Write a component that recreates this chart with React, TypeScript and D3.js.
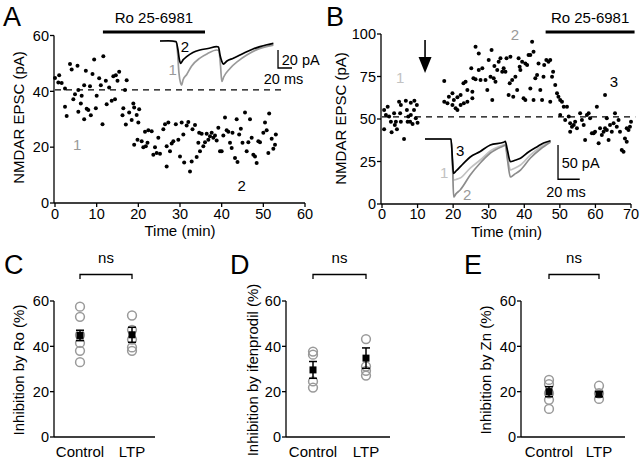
import React from 'react';
import * as d3 from 'd3';

const FONT = '"Liberation Sans", Arial, Helvetica, sans-serif';

// ---------- Panel A: NMDAR EPSC vs time ----------
const timeA = [0.0, 0.8, 1.0, 1.6, 2.4, 2.4, 2.8, 3.6, 4.0, 4.4, 4.8, 5.4, 5.6, 5.6, 6.2, 6.4, 7.0, 7.0, 7.4, 7.6, 8.0, 8.4, 8.6, 9.0, 9.4, 9.8, 10.0, 10.6, 11.0, 11.4, 11.6, 12.2, 12.4, 13.0, 13.6, 14.0, 14.4, 14.6, 15.0, 15.4, 16.2, 16.4, 16.8, 17.0, 17.2, 17.8, 18.4, 18.8, 19.0, 19.0, 19.6, 19.8, 20.0, 20.2, 20.8, 21.2, 21.6, 21.8, 22.2, 22.4, 23.2, 23.6, 24.0, 24.4, 24.8, 25.2, 26.0, 26.4, 26.8, 26.8, 27.2, 27.6, 28.0, 28.4, 29.0, 29.6, 30.0, 30.4, 30.8, 31.0, 31.6, 32.0, 32.4, 32.8, 33.0, 33.6, 34.0, 34.4, 34.6, 34.8, 35.2, 35.6, 36.0, 36.4, 36.8, 37.2, 37.6, 38.0, 38.4, 38.8, 39.2, 39.6, 40.0, 40.4, 40.8, 41.2, 41.6, 42.0, 42.4, 42.6, 43.2, 43.6, 43.8, 44.2, 44.6, 45.0, 45.6, 46.0, 46.4, 46.8, 47.2, 47.6, 48.0, 48.4, 48.8, 49.2, 50.0, 50.4, 50.8, 51.2, 51.4, 52.0, 52.4, 52.8, 53.0];
const epscA = [44.8, 43.2, 45.8, 43.0, 41.0, 34.5, 31.2, 49.8, 47.8, 37.2, 39.0, 49.2, 40.5, 32.7, 35.6, 38.4, 42.2, 30.0, 47.4, 33.8, 33.3, 41.8, 31.4, 46.2, 51.4, 33.9, 38.4, 44.7, 42.2, 28.2, 52.6, 43.8, 35.4, 41.4, 36.6, 45.4, 37.2, 45.8, 43.8, 47.0, 31.4, 33.9, 40.5, 28.1, 44.0, 32.4, 29.7, 35.6, 34.2, 20.9, 31.5, 22.7, 28.8, 33.6, 22.1, 20.0, 25.5, 20.3, 21.6, 26.1, 25.7, 17.3, 20.0, 17.9, 23.4, 17.6, 26.4, 28.2, 20.3, 13.1, 28.8, 18.5, 21.3, 22.1, 28.2, 22.7, 16.7, 28.8, 24.5, 14.5, 27.8, 29.0, 11.3, 14.9, 26.4, 27.9, 16.5, 21.6, 25.2, 18.5, 24.8, 20.3, 21.8, 24.8, 22.7, 23.9, 25.2, 23.4, 24.2, 22.4, 27.0, 18.5, 18.5, 24.2, 30.6, 26.1, 25.5, 21.6, 19.7, 25.2, 16.1, 30.0, 14.7, 24.5, 26.6, 21.6, 32.4, 18.5, 21.8, 30.0, 23.4, 17.3, 16.7, 14.3, 22.1, 21.8, 25.2, 28.8, 26.1, 17.9, 32.1, 23.0, 19.4, 20.9, 24.5];
const baselineA = 40.5;
const roA = [11.5, 36];
const xTicksA = [0, 10, 20, 30, 40, 50, 60];
const yTicksA = [0, 20, 40, 60];

// inset traces A (ms, pA)
const traceA1Ms = [0, 23, 25, 27, 29.5, 31, 33, 38, 45, 57, 68, 81, 84, 86.5, 88.3, 91, 100, 112, 124, 140, 162];
const traceA1pA = [0, -0.5, -12, -35, -47, -49, -43, -37.5, -28, -19, -14, -10, -10.5, -28, -45, -40, -30.5, -22, -15.5, -9, -4.5];
const traceA2Ms = [0, 12, 23, 25.7, 27.5, 29.6, 32.9, 38.1, 47, 57, 68.6, 81, 83.6, 85.7, 88, 90.4, 95.7, 104.7, 114.3, 123.9, 132.9, 142.9, 151.4, 162];
const traceA2pA = [0, 0.3, -0.8, -10, -20, -24.8, -21, -17.4, -12.8, -10, -8.3, -6.3, -6.7, -15.6, -22, -25.6, -22.2, -19.2, -15.6, -11.9, -8.9, -6.3, -4.4, -2.6];

// ---------- Panel B ----------
const timeB = [0.6, 0.6, 1.1, 1.6, 2.0, 2.5, 2.7, 3.4, 3.6, 3.9, 4.2, 4.8, 5.1, 5.3, 5.3, 6.2, 6.7, 7.0, 7.2, 7.4, 7.9, 8.1, 8.1, 8.6, 9.0, 9.1, 9.5, 9.8, 10.0, 17.5, 17.5, 18.4, 18.8, 19.8, 19.8, 20.2, 20.7, 21.2, 21.2, 22.1, 22.1, 22.9, 23.0, 23.5, 24.0, 24.0, 25.1, 25.4, 25.4, 25.7, 26.3, 26.3, 27.2, 27.2, 27.7, 28.2, 29.1, 29.6, 30.0, 30.5, 30.8, 31.0, 31.4, 31.6, 31.9, 32.4, 32.8, 33.3, 33.8, 34.2, 34.7, 35.0, 35.6, 35.9, 36.1, 36.6, 36.9, 37.5, 38.0, 38.4, 38.7, 38.9, 39.4, 39.8, 40.3, 40.3, 40.8, 41.2, 41.7, 41.7, 42.2, 42.6, 42.6, 43.1, 43.6, 44.0, 44.5, 45.0, 45.4, 45.6, 46.2, 46.8, 47.3, 47.3, 47.8, 48.1, 48.7, 49.2, 49.6, 50.1, 50.1, 50.6, 51.1, 51.5, 52.0, 52.5, 52.9, 52.9, 53.4, 53.9, 54.3, 54.8, 55.7, 56.2, 56.7, 57.1, 57.6, 58.1, 58.5, 59.0, 59.5, 59.9, 60.4, 60.9, 61.3, 61.8, 62.3, 62.7, 62.7, 63.2, 63.2, 63.7, 64.1, 64.6, 65.1, 65.5, 66.0, 66.5, 66.9, 67.4, 67.9, 68.3, 68.8, 68.8, 69.3, 69.7, 70.0];
const epscB = [55.3, 43.9, 52.4, 57.2, 51.4, 48.4, 42.2, 53.4, 46.5, 48.4, 43.9, 60.2, 53.4, 58.2, 48.4, 38.2, 60.8, 55.3, 48.4, 51.4, 48.4, 59.6, 52.4, 47.1, 55.3, 60.8, 50.4, 58.2, 47.8, 72.4, 60.2, 59.2, 63.1, 65.1, 58.2, 61.2, 56.3, 62.8, 55.3, 64.1, 58.2, 71.0, 59.2, 71.9, 67.1, 60.2, 79.8, 62.2, 66.0, 73.9, 73.4, 92.5, 88.6, 78.8, 72.9, 79.8, 72.9, 67.1, 84.7, 74.9, 90.6, 61.2, 73.9, 81.2, 71.9, 78.8, 83.7, 85.7, 77.8, 79.8, 77.8, 85.7, 64.1, 71.0, 86.6, 72.9, 63.1, 74.9, 67.1, 85.7, 80.8, 78.8, 83.7, 62.2, 61.2, 82.7, 81.8, 87.6, 87.6, 68.0, 95.5, 89.6, 61.2, 73.9, 75.9, 82.7, 67.1, 61.2, 74.9, 81.8, 84.7, 83.7, 84.7, 60.2, 74.9, 77.8, 70.0, 65.1, 63.1, 61.2, 52.4, 60.2, 57.2, 49.4, 57.2, 51.4, 47.5, 42.5, 45.5, 46.5, 48.4, 44.5, 53.4, 49.4, 46.5, 37.6, 52.4, 53.4, 50.4, 41.6, 41.6, 42.5, 57.2, 35.7, 44.5, 40.6, 42.5, 44.5, 64.1, 50.4, 43.5, 37.6, 46.5, 42.5, 47.5, 53.4, 45.5, 49.4, 42.5, 31.8, 30.8, 38.6, 44.5, 36.6, 43.5, 45.5, 48.4];
const baselineB = 51.2;
const roB = [46, 71];
const arrowB = 12.1;
const xTicksB = [0, 10, 20, 30, 40, 50, 60, 70];
const yTicksB = [0, 25, 50, 75, 100];

// inset traces B (ms, pA): 1 light gray, 2 gray, 3 black
const traceB1Ms = [0, 24, 25.4, 26.3, 28.5, 32.4, 41.7, 50.9, 60.2, 72.2, 74, 76, 78.7, 82, 88, 97.2, 106.5, 115.7];
const traceB1pA = [0, 0, -35, -60, -59, -56.9, -42.3, -30.6, -17.5, -8.7, -7.5, -25, -45.2, -43, -37.9, -23.3, -11.7, -2.9];
const traceB2Ms = [0, 24, 25.5, 26.4, 28.5, 32.4, 41.7, 50.9, 60.2, 72.2, 74, 76, 78.7, 82, 88, 97.2, 106.5, 115.7];
const traceB2pA = [0, 0, -45, -84.5, -80, -74.3, -52.5, -35, -20.4, -10.2, -9, -30, -55.4, -52, -45.2, -27.7, -14.6, -4.4];
const traceB3Ms = [0, 24, 25.3, 26.2, 28.7, 35.5, 41.7, 50.9, 60.2, 72.5, 74, 75.9, 78.7, 82.4, 88, 95.4, 103.4, 109.3, 115.7];
const traceB3pA = [0, 0, -30, -50, -46.6, -35.4, -26.2, -18.2, -8.7, -4.8, -3.6, -16, -33.1, -31.3, -28.1, -19, -11.2, -5.8, -2.5];

// ---------- Panels C, D, E ----------
const groups = ['Control', 'LTP'];
const yTicksSum = [0, 20, 40, 60];
const roControl = [57.5, 53, 45, 41.5, 38, 33];
const roLTP = [53.6, 47.3, 43, 39.5, 38];
const roMean = [44.8, 45.1];
const roSem = [2.3, 3.3];
const ifenControl = [37.7, 36.3, 24.5, 21.8];
const ifenLTP = [43.2, 31.1, 29.2, 27.1];
const ifenMean = [29.6, 34.8];
const ifenSem = [3.7, 4.5];
const znControl = [25.2, 23.3, 19.3, 16.4, 12.4];
const znLTP = [22.6, 19.3, 16.8];
const znMean = [20.0, 18.9];
const znSem = [2.2, 1.1];

const GRAY1 = '#9a9a9a';
const LIGHT = '#c2c2c2';

function Trace({ ms, pA, tx, ty, color, width = 1.7 }: any) {
  const pts = ms.map((m: number, i: number) => [m, pA[i]] as [number, number]);
  const line = d3.line<[number, number]>().x(d => tx(d[0])).y(d => ty(d[1])).curve(d3.curveMonotoneX);
  return <path d={line(pts) || ''} fill="none" stroke={color} strokeWidth={width} strokeLinejoin="round" />;
}

function Summary({ axisX, xs, endX, label, ctrl, ltp, mean, sem, labelX, letter, letterX }: any) {
  const y = d3.scaleLinear().domain([0, 60]).range([437, 301]);
  const x = d3.scaleOrdinal<string, number>().domain(groups).range(xs);
  const sets = [ctrl, ltp];
  const cy = 370;
  return (
    <g>
      <text x={letterX} y={274} fontSize={27} fontFamily={FONT}>{letter}</text>
      <line x1={axisX} x2={axisX} y1={y(60)} y2={y(0)} stroke="#000" strokeWidth={1.3} />
      <line x1={axisX} x2={endX} y1={y(0)} y2={y(0)} stroke="#000" strokeWidth={1.3} />
      {yTicksSum.map(t => (
        <g key={t}>
          <line x1={axisX - 4} x2={axisX} y1={y(t)} y2={y(t)} stroke="#000" strokeWidth={1.3} />
          <text x={axisX - 5} y={y(t)} dy="0.36em" textAnchor="end" fontSize={14.5} fontFamily={FONT}>{t}</text>
        </g>
      ))}
      {groups.map(g => (
        <text key={g} x={x(g)} y={457} textAnchor="middle" fontSize={15} fontFamily={FONT}>{g}</text>
      ))}
      <text transform={`translate(${labelX},${cy}) rotate(-90)`} textAnchor="middle" fontSize={15} fontFamily={FONT}>{label}</text>
      <path d={`M${x('Control')},279V274.5H${x('LTP')}V279`} fill="none" stroke="#000" strokeWidth={1.3} />
      <text x={(x('Control') + x('LTP')) / 2} y={263} textAnchor="middle" fontSize={15} fontFamily={FONT}>ns</text>
      {groups.map((g, gi) => (
        <g key={g}>
          {sets[gi].map((v: number, i: number) => (
            <circle key={i} cx={x(g)} cy={y(v)} r={4.4} fill="none" stroke={GRAY1} strokeWidth={1.5} />
          ))}
          <line x1={x(g)} x2={x(g)} y1={y(mean[gi] - sem[gi])} y2={y(mean[gi] + sem[gi])} stroke="#000" strokeWidth={1.5} />
          <line x1={x(g) - 4} x2={x(g) + 4} y1={y(mean[gi] + sem[gi])} y2={y(mean[gi] + sem[gi])} stroke="#000" strokeWidth={1.5} />
          <line x1={x(g) - 4} x2={x(g) + 4} y1={y(mean[gi] - sem[gi])} y2={y(mean[gi] - sem[gi])} stroke="#000" strokeWidth={1.5} />
          <rect x={x(g) - 3.5} y={y(mean[gi]) - 3.5} width={7} height={7} fill="#000" />
        </g>
      ))}
    </g>
  );
}

export default function App() {
  const xA = d3.scaleLinear().domain([0, 60]).range([55, 305]);
  const yA = d3.scaleLinear().domain([0, 60]).range([203, 35.5]);
  const xB = d3.scaleLinear().domain([0, 70]).range([382, 631]);
  const yB = d3.scaleLinear().domain([0, 100]).range([204, 34]);

  const txA = d3.scaleLinear().domain([0, 20]).range([160, 174]);
  const tyA = d3.scaleLinear().domain([0, -20]).range([41, 59]);
  const txB = d3.scaleLinear().domain([0, 20]).range([425, 446.7]);
  const tyB = d3.scaleLinear().domain([0, -50]).range([139, 173.3]);

  const axisStyle = { stroke: '#000', strokeWidth: 1.3 };

  return (
    <svg width={643} height={460} style={{ position: 'absolute', left: 0, top: 0, background: '#fff' }} fontFamily={FONT}>
      <rect width={643} height={460} fill="#fff" />
      {/* ===== Panel A ===== */}
      <text x={3} y={26} fontSize={27}>A</text>
      <line x1={54} x2={54} y1={yA(60)} y2={yA(0)} {...axisStyle} />
      <line x1={54} x2={xA(60)} y1={yA(0)} y2={yA(0)} {...axisStyle} />
      {yTicksA.map(t => (
        <g key={t}>
          <line x1={50} x2={54} y1={yA(t)} y2={yA(t)} {...axisStyle} />
          <text x={49} y={yA(t)} dy="0.36em" textAnchor="end" fontSize={14.5}>{t}</text>
        </g>
      ))}
      {xTicksA.map(t => (
        <g key={t}>
          <line x1={xA(t)} x2={xA(t)} y1={yA(0)} y2={yA(0) + 4} {...axisStyle} />
          <text x={xA(t)} y={218.5} textAnchor="middle" fontSize={14.5}>{t}</text>
        </g>
      ))}
      <text x={xA(30)} y={236} textAnchor="middle" fontSize={15}>Time (min)</text>
      <text transform={`translate(24,117.5) rotate(-90)`} textAnchor="middle" fontSize={15}>NMDAR EPSC (pA)</text>
      <line x1={xA(0)} x2={xA(54.7)} y1={yA(baselineA)} y2={yA(baselineA)} stroke="#000" strokeWidth={1.2} strokeDasharray="6 5" />
      <line x1={xA(roA[0])} x2={xA(roA[1])} y1={32} y2={32} stroke="#000" strokeWidth={3} />
      <text x={(xA(roA[0]) + xA(roA[1])) / 2} y={23} textAnchor="middle" fontSize={15}>Ro 25-6981</text>
      {timeA.map((t, i) => (
        <circle key={i} cx={xA(t)} cy={yA(epscA[i])} r={2} fill="#000" />
      ))}
      <text x={xA(5.3)} y={yA(20.9)} dy="0.36em" textAnchor="middle" fontSize={15} fill={GRAY1}>1</text>
      <text x={xA(44.8)} y={yA(6.1)} dy="0.36em" textAnchor="middle" fontSize={15}>2</text>
      <Trace ms={traceA1Ms} pA={traceA1pA} tx={txA} ty={tyA} color={GRAY1} />
      <Trace ms={traceA2Ms} pA={traceA2pA} tx={txA} ty={tyA} color="#000" />
      <text x={txA(35.7)} y={tyA(-6.7)} dy="0.36em" textAnchor="middle" fontSize={15}>2</text>
      <text x={txA(18.1)} y={tyA(-32.2)} dy="0.36em" textAnchor="middle" fontSize={15} fill={GRAY1}>1</text>
      <path d={`M${txA(168.6)},${tyA(-10)}V${tyA(-30)}H${txA(188.6)}`} fill="none" stroke="#000" strokeWidth={1.3} />
      <text x={txA(174)} y={65} fontSize={14.5}>20 pA</text>
      <text x={283.5} y={84} textAnchor="middle" fontSize={14.5}>20 ms</text>

      {/* ===== Panel B ===== */}
      <text x={326} y={26} fontSize={27}>B</text>
      <line x1={381} x2={381} y1={yB(100)} y2={yB(0)} {...axisStyle} />
      <line x1={381} x2={xB(70)} y1={yB(0)} y2={yB(0)} {...axisStyle} />
      {yTicksB.map(t => (
        <g key={t}>
          <line x1={377} x2={381} y1={yB(t)} y2={yB(t)} {...axisStyle} />
          <text x={376} y={yB(t)} dy="0.36em" textAnchor="end" fontSize={14.5}>{t}</text>
        </g>
      ))}
      {xTicksB.map(t => (
        <g key={t}>
          <line x1={xB(t)} x2={xB(t)} y1={yB(0)} y2={yB(0) + 4} {...axisStyle} />
          <text x={xB(t)} y={218.5} textAnchor="middle" fontSize={14.5}>{t}</text>
        </g>
      ))}
      <text x={xB(35)} y={237} textAnchor="middle" fontSize={15}>Time (min)</text>
      <text transform={`translate(346,118.5) rotate(-90)`} textAnchor="middle" fontSize={15}>NMDAR EPSC (pA)</text>
      <line x1={xB(0)} x2={xB(71.2)} y1={yB(baselineB)} y2={yB(baselineB)} stroke="#000" strokeWidth={1.2} strokeDasharray="6 5" />
      <line x1={xB(roB[0])} x2={xB(roB[1])} y1={32} y2={32} stroke="#000" strokeWidth={3} />
      <text x={(xB(roB[0]) + xB(roB[1])) / 2} y={23} textAnchor="middle" fontSize={15}>Ro 25-6981</text>
      <line x1={xB(arrowB)} x2={xB(arrowB)} y1={yB(96.5)} y2={yB(85)} stroke="#000" strokeWidth={1.6} />
      <path d={`M${xB(arrowB) - 6.5},${yB(86.5)}L${xB(arrowB) + 6.5},${yB(86.5)}L${xB(arrowB)},${yB(77)}Z`} fill="#000" />
      {timeB.map((t, i) => (
        <circle key={i} cx={xB(t)} cy={yB(epscB[i])} r={2} fill="#000" />
      ))}
      <text x={xB(5.1)} y={yB(74.1)} dy="0.36em" textAnchor="middle" fontSize={15} fill={LIGHT}>1</text>
      <text x={xB(37.4)} y={yB(99.4)} dy="0.36em" textAnchor="middle" fontSize={15} fill={GRAY1}>2</text>
      <text x={xB(65.2)} y={yB(71.8)} dy="0.36em" textAnchor="middle" fontSize={15}>3</text>
      <Trace ms={traceB1Ms} pA={traceB1pA} tx={txB} ty={tyB} color={LIGHT} />
      <Trace ms={traceB2Ms} pA={traceB2pA} tx={txB} ty={tyB} color={'#8c8c8c'} />
      <Trace ms={traceB3Ms} pA={traceB3pA} tx={txB} ty={tyB} color="#000" />
      <text x={txB(32.4)} y={tyB(-17.5)} dy="0.36em" textAnchor="middle" fontSize={15}>3</text>
      <text x={txB(17.6)} y={tyB(-49.6)} dy="0.36em" textAnchor="middle" fontSize={15} fill={LIGHT}>1</text>
      <text x={txB(38.9)} y={tyB(-81.6)} dy="0.36em" textAnchor="middle" fontSize={15} fill={GRAY1}>2</text>
      <path d={`M${txB(122.6)},${tyB(-8.7)}V${tyB(-58.7)}H${txB(142.6)}`} fill="none" stroke="#000" strokeWidth={1.3} />
      <text x={txB(126)} y={168} fontSize={14.5}>50 pA</text>
      <text x={566} y={197} textAnchor="middle" fontSize={14.5}>20 ms</text>

      {/* ===== Panels C, D, E ===== */}
      <Summary axisX={54} xs={[80, 132]} endX={155} label="Inhibition by Ro (%)" ctrl={roControl} ltp={roLTP} mean={roMean} sem={roSem} labelX={24} letter="C" letterX={4} />
      <Summary axisX={286} xs={[313, 366]} endX={390} label="Inhibition by ifenprodil (%)" ctrl={ifenControl} ltp={ifenLTP} mean={ifenMean} sem={ifenSem} labelX={258} letter="D" letterX={230} />
      <Summary axisX={521} xs={[549, 599]} endX={625} label="Inhibition by Zn (%)" ctrl={znControl} ltp={znLTP} mean={znMean} sem={znSem} labelX={491} letter="E" letterX={464} />
    </svg>
  );
}
